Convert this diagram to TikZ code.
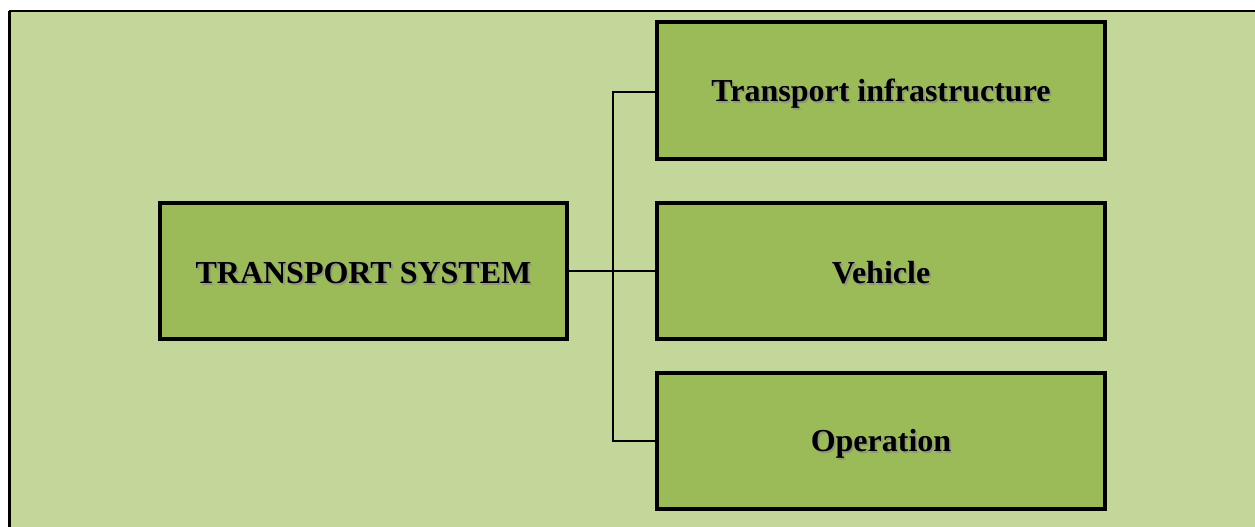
\documentclass[tikz,border=0pt]{standalone}
\usepackage{fontspec}
\setmainfont{Liberation Serif}
\usetikzlibrary{calc}
\definecolor{panelgreen}{HTML}{C4D79B}
\definecolor{boxgreen}{HTML}{9BBB59}
\tikzset{
  x=1pt, y=-1pt,
  box/.style={draw=black, line width=4.5pt, fill=boxgreen, inner sep=0pt},
  link/.style={draw=black, line width=2pt},
  lbl/.style={font=\fontsize{32}{36}\selectfont\bfseries, inner sep=0pt},
}
% bold label with a soft grey drop shadow
\newcommand{\shadowlabel}[3]{%
  \node[lbl, text=black!45, opacity=0.8] at ($(#1)+(1.8,2)$) {#3};
  \node[lbl] (#2) at (#1) {#3};
}
\begin{document}
\begin{tikzpicture}
\useasboundingbox (0,0) rectangle (1255,527);
% panel: only its top and left edges fall inside the page
\fill[panelgreen] (9,11) rectangle (1260,535);
\draw[black, line width=1.8pt] (1260,11) -- (9,11);
\draw[black, line width=3pt] (9,11) -- (9,535);

% boxes
\path[box] (160,203) rectangle (567,339);
\coordinate (sys) at (363.5,273);
\path[box] (657,22) rectangle (1105,159);
\coordinate (infra) at (881,93.5);
\path[box] (657,203) rectangle (1105,339);
\coordinate (veh) at (881,273);
\path[box] (657,373) rectangle (1105,509);
\coordinate (ops) at (881,443.5);

\coordinate (sysE) at (569,271);
\coordinate (infraW) at (655,91.5);
\coordinate (vehW) at (655,271);
\coordinate (opsW) at (655,440.5);
\coordinate (fork) at (612.5,271);

% connectors
\draw[link] (sysE) -- (vehW);
\draw[link] (infraW) -| (fork) |- (opsW);

% labels
\shadowlabel{sys}{tsys}{TRANSPORT SYSTEM}
\shadowlabel{infra}{tinfra}{Transport infrastructure}
\shadowlabel{veh}{tveh}{Vehicle}
\shadowlabel{ops}{tops}{Operation}
\end{tikzpicture}
\end{document}
